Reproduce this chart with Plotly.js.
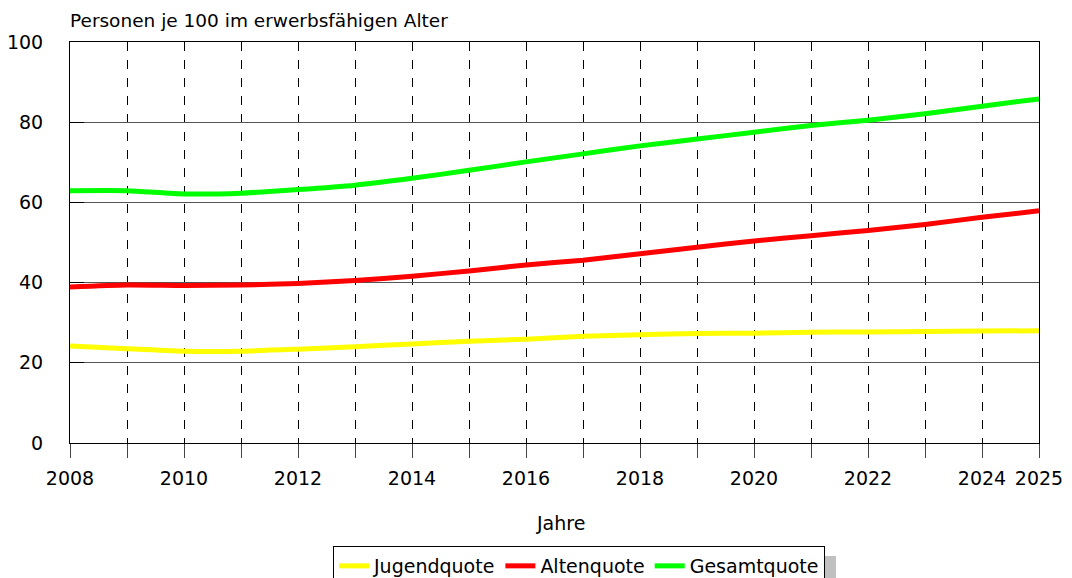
<!DOCTYPE html>
<html>
<head>
<meta charset="utf-8">
<script src="https://cdn.plot.ly/plotly-3.0.1.min.js"></script>
<style>html,body{margin:0;padding:0;background:#fff}#chart{width:1072px;height:578px}</style>
</head>
<body>
<div id="chart"></div>
<script>
const years = [2008,2009,2010,2011,2012,2013,2014,2015,2016,2017,2018,2019,2020,2021,2022,2023,2024,2025];
const jugendquote = [24.2,23.5,22.9,22.9,23.4,24.0,24.7,25.4,25.9,26.6,27.0,27.3,27.4,27.6,27.7,27.8,27.9,28.0];
const altenquote = [38.9,39.4,39.3,39.4,39.8,40.5,41.6,42.9,44.4,45.6,47.2,48.8,50.4,51.7,53.0,54.5,56.3,57.9];
const gesamtquote = [62.9,62.9,62.1,62.3,63.2,64.3,66.0,68.0,70.1,72.1,74.1,75.8,77.5,79.2,80.5,82.1,84.0,85.8];
const xTickLabels = years.map(y => (y % 2 === 0 || y === 2025) ? String(y) : '');
const yTicks = [0,20,40,60,80,100];

const FONT = '"DejaVu Sans", sans-serif';

const traces = [
  {x: years, y: jugendquote, name: 'Jugendquote', mode: 'lines', line: {color: '#ffff00', width: 5, shape: 'spline', smoothing: 0.6}},
  {x: years, y: altenquote, name: 'Altenquote', mode: 'lines', line: {color: '#ff0000', width: 5, shape: 'spline', smoothing: 0.6}},
  {x: years, y: gesamtquote, name: 'Gesamtquote', mode: 'lines', line: {color: '#00ff00', width: 5, shape: 'spline', smoothing: 0.6}}
];

const layout = {
  width: 1072, height: 578,
  margin: {l: 70, r: 33, t: 42, b: 135, autoexpand: false},
  paper_bgcolor: '#fff', plot_bgcolor: '#fff',
  font: {family: FONT, size: 19, color: '#000'},
  showlegend: true,
  title: {text: 'Personen je 100 im erwerbsfähigen Alter', x: 70/1072, xanchor: 'left', xref: 'container', y: 1 - 21/578, yanchor: 'middle', yref: 'container', font: {family: FONT, size: 18.5, color: '#000'}},
  xaxis: {
    range: [2008, 2025], tickmode: 'array', tickvals: years, ticktext: xTickLabels,
    showgrid: true, gridcolor: '#000', griddash: 'dash', gridwidth: 1,
    ticks: 'outside', ticklen: 14, tickcolor: '#444', tickwidth: 1,
    showline: true, linecolor: '#000', linewidth: 1, mirror: true,
    zeroline: false, tickfont: {family: FONT, size: 19, color: '#000'}, ticklabelstandoff: 4, fixedrange: true
  },
  yaxis: {
    range: [0, 100], tickmode: 'array', tickvals: yTicks,
    showgrid: true, gridcolor: '#555', gridwidth: 1,
    ticks: 'inside', ticklen: 14, tickcolor: '#000',
    showline: true, linecolor: '#000', linewidth: 1, mirror: true,
    zeroline: false, tickfont: {family: FONT, size: 19, color: '#000'}, ticklabelstandoff: 22, fixedrange: true
  },
  legend: {
    orientation: 'h', x: (579-70)/969, xanchor: 'center', y: (443-546)/401, yanchor: 'top',
    bordercolor: '#000', borderwidth: 1, bgcolor: '#fff',
    font: {family: FONT, size: 19, color: '#000'}, itemwidth: 30
  },
  annotations: [
    {text: 'Jahre', xref: 'paper', yref: 'paper', x: (560-70)/969, y: (443-523)/401, xanchor: 'center', yanchor: 'middle', showarrow: false, font: {family: FONT, size: 19, color: '#000'}}
  ],
  shapes: [
    {type: 'rect', xref: 'paper', yref: 'paper', x0: (825-70)/969, x1: (836-70)/969, y0: (443-556)/401, y1: (443-578)/401, fillcolor: '#c0c0c0', line: {width: 0}, layer: 'below'}
  ]
};

Plotly.newPlot('chart', traces, layout, {displayModeBar: false, staticPlot: true});
</script>
</body>
</html>
